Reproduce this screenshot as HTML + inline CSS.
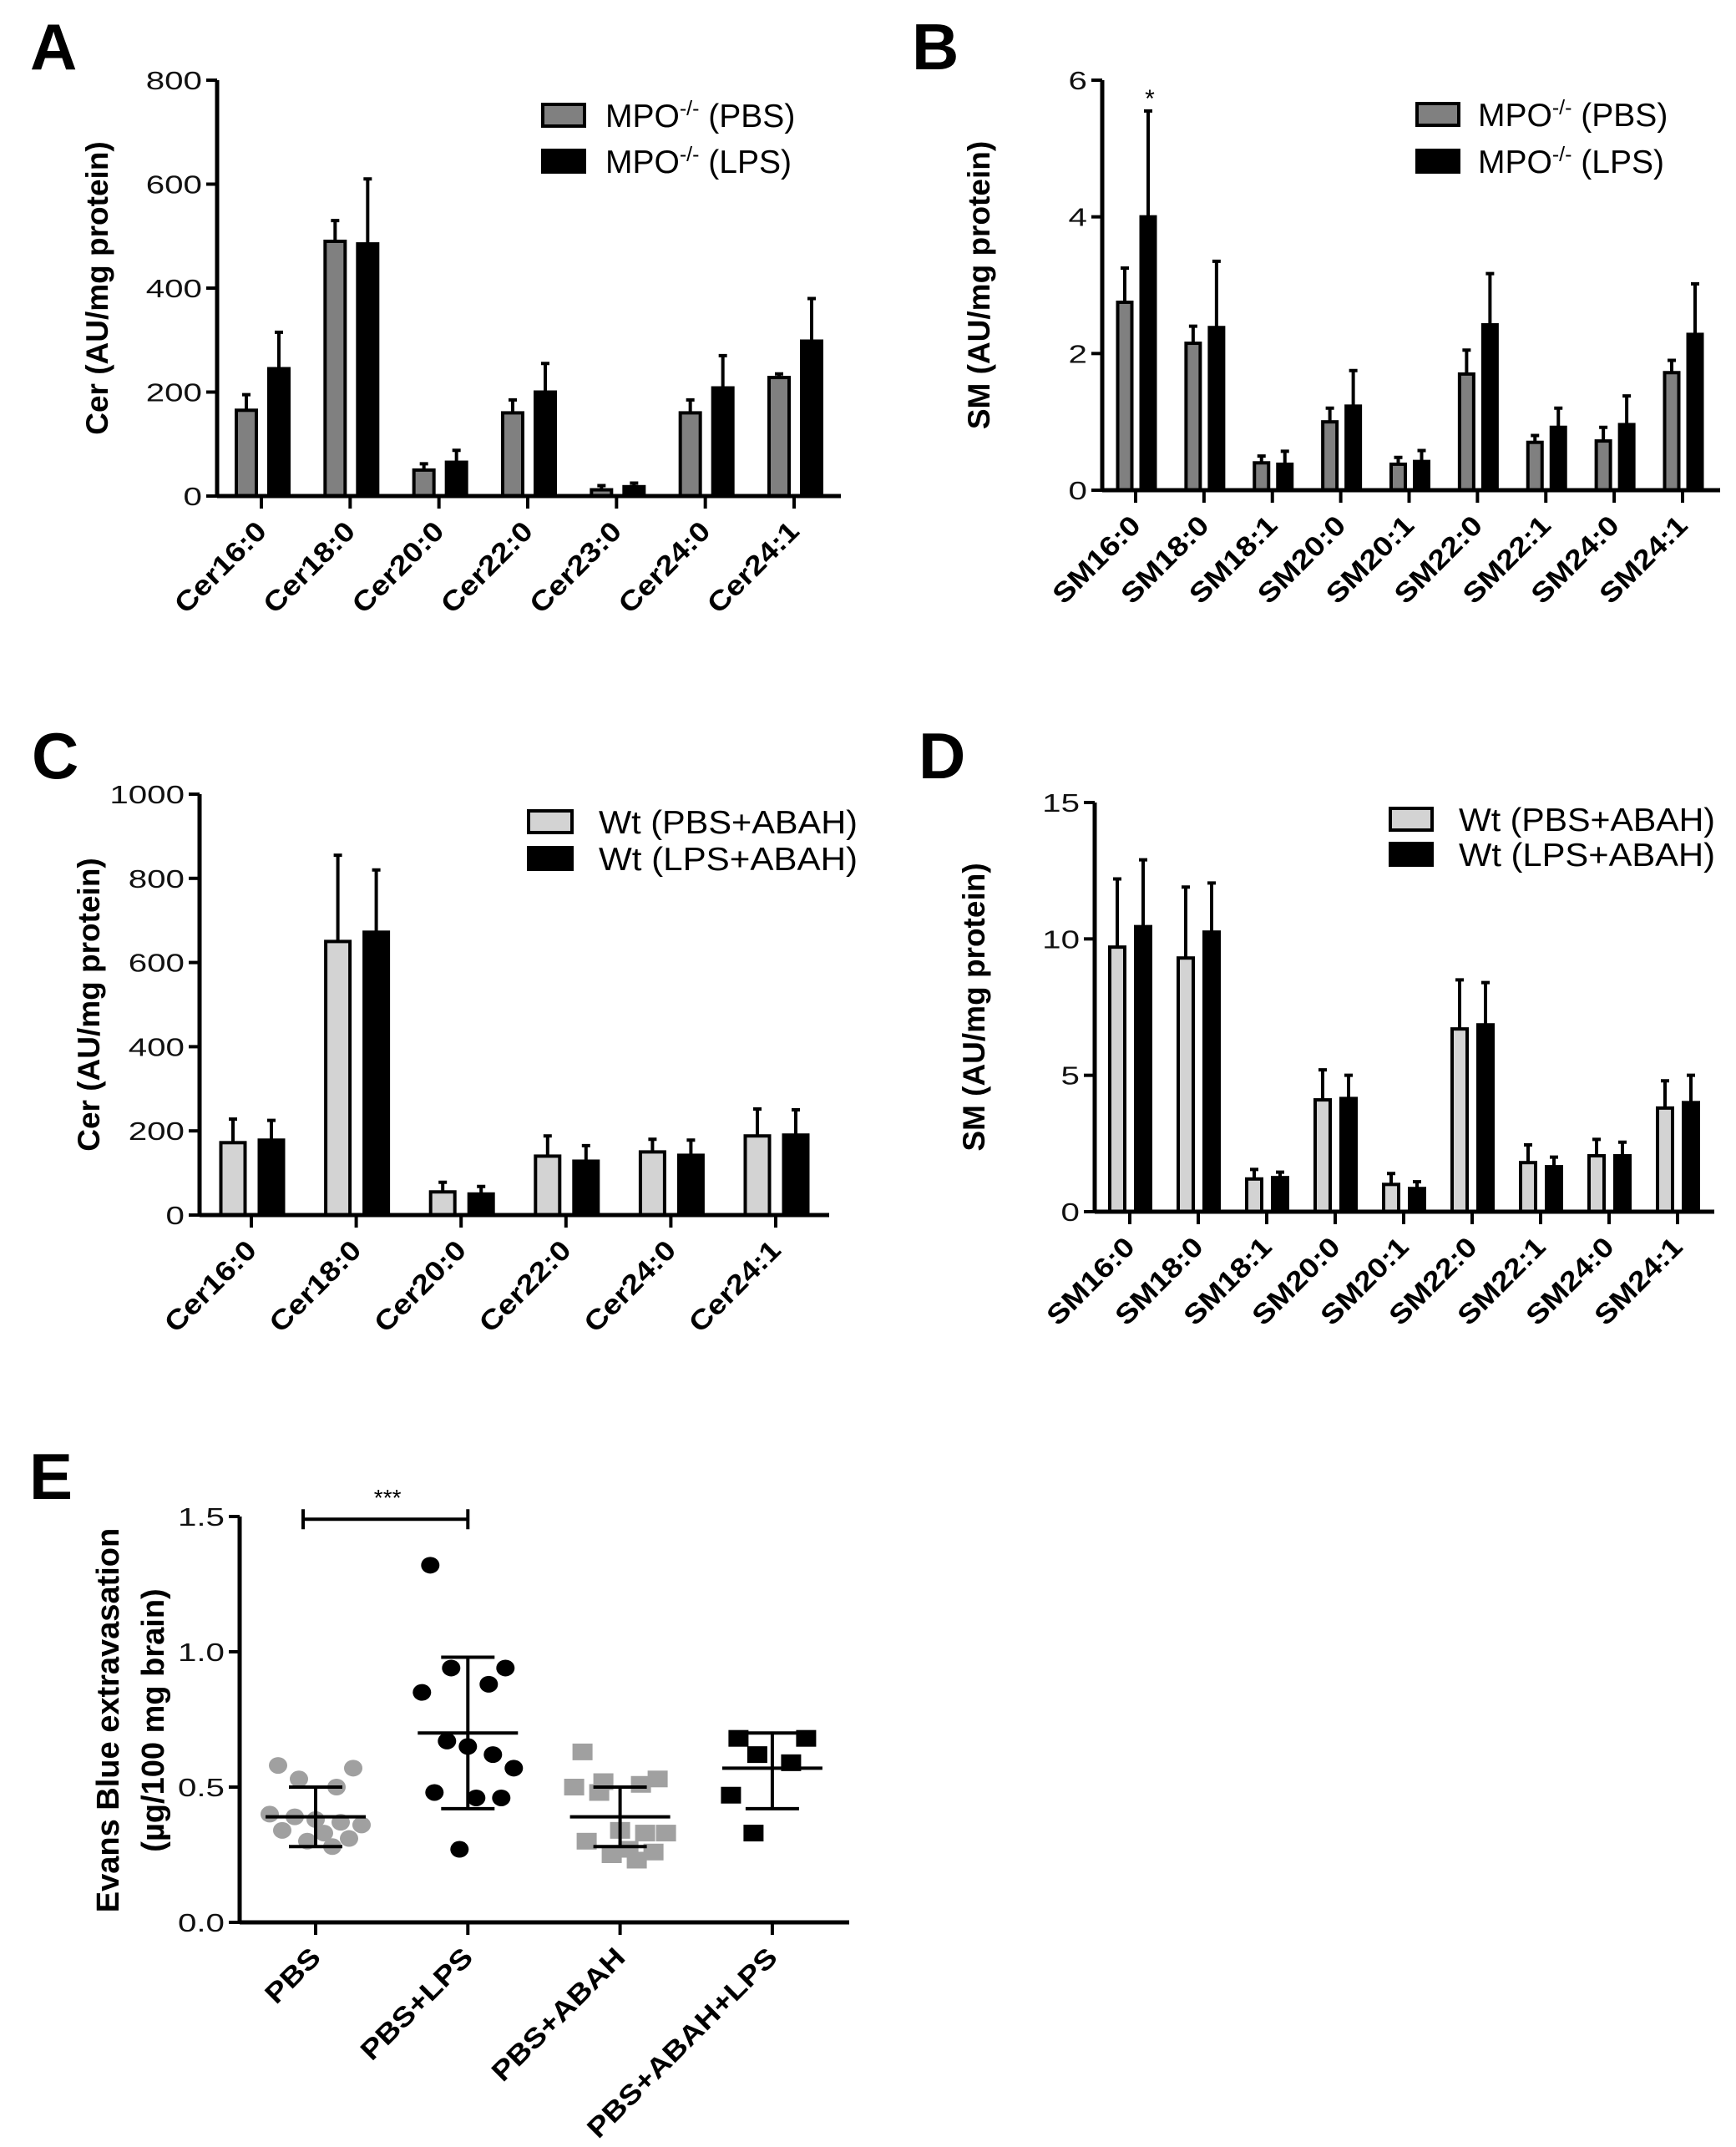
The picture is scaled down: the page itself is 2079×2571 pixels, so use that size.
<!DOCTYPE html>
<html><head><meta charset="utf-8"><style>
body{margin:0;background:#fff}
svg{display:block;font-family:"Liberation Sans",Arial,sans-serif}
</style></head><body>
<svg id="fig" width="2079" height="2571" viewBox="0 0 2079 2571" xmlns="http://www.w3.org/2000/svg"></svg>
<script>
// ---- Panel A data ----
const aCats=["Cer16:0","Cer18:0","Cer20:0","Cer22:0","Cer23:0","Cer24:0","Cer24:1"];
const aPbs=[165,490,50,160,12,160,228];
const aPbsErr=[195,530,62,185,20,185,235];
const aLps=[245,485,65,200,18,208,298];
const aLpsErr=[315,610,88,255,25,270,380];
const aTicks=[0,200,400,600,800];
// ---- Panel B data ----
const bCats=["SM16:0","SM18:0","SM18:1","SM20:0","SM20:1","SM22:0","SM22:1","SM24:0","SM24:1"];
const bPbs=[2.75,2.15,0.4,1.0,0.38,1.7,0.7,0.72,1.72];
const bPbsErr=[3.25,2.4,0.5,1.2,0.48,2.05,0.8,0.92,1.9];
const bLps=[4.0,2.38,0.38,1.23,0.42,2.42,0.92,0.96,2.28];
const bLpsErr=[5.55,3.35,0.57,1.75,0.58,3.17,1.2,1.38,3.02];
const bTicks=[0,2,4,6];
// ---- Panel C data ----
const cCats=["Cer16:0","Cer18:0","Cer20:0","Cer22:0","Cer24:0","Cer24:1"];
const cPbs=[172,650,55,140,150,188];
const cPbsErr=[228,855,78,188,180,252];
const cLps=[178,672,50,128,142,190];
const cLpsErr=[225,820,68,165,178,250];
const cTicks=[0,200,400,600,800,1000];
// ---- Panel D data ----
const dCats=["SM16:0","SM18:0","SM18:1","SM20:0","SM20:1","SM22:0","SM22:1","SM24:0","SM24:1"];
const dPbs=[9.7,9.3,1.2,4.1,1.0,6.7,1.8,2.05,3.8];
const dPbsErr=[12.2,11.9,1.55,5.2,1.4,8.5,2.45,2.65,4.8];
const dLps=[10.45,10.25,1.25,4.15,0.85,6.85,1.65,2.05,4.0];
const dLpsErr=[12.9,12.05,1.45,5.0,1.1,8.4,2.0,2.55,5.0];
const dTicks=[0,5,10,15];
// ---- Panel E data ----
const eCats=["PBS","PBS+LPS","PBS+ABAH","PBS+ABAH+LPS"];
const ePbs=[0.58,0.57,0.53,0.50,0.40,0.39,0.38,0.37,0.36,0.34,0.33,0.31,0.30,0.28];
const ePbsLps=[1.32,0.94,0.94,0.88,0.85,0.67,0.65,0.62,0.57,0.48,0.46,0.46,0.27];
const eAbah=[0.63,0.53,0.52,0.51,0.50,0.48,0.34,0.33,0.33,0.30,0.27,0.26,0.25,0.23];
const eAbahLps=[0.68,0.68,0.62,0.59,0.47,0.33];
const eMean=[0.39,0.70,0.39,0.57];
const eSdHi=[0.50,0.98,0.50,0.70];
const eSdLo=[0.28,0.42,0.28,0.42];
const eTicks=["0.0","0.5","1.0","1.5"];

const NS="http://www.w3.org/2000/svg";
const svg=document.getElementById('fig');
function mk(tag,attrs,parent,text){const e=document.createElementNS(NS,tag);for(const k in attrs)e.setAttribute(k,attrs[k]);if(text!==undefined)e.textContent=text;(parent||svg).appendChild(e);return e;}
function stretch(el,f){try{const w=el.getComputedTextLength();if(w>0){el.setAttribute('textLength',w*f);el.setAttribute('lengthAdjust','spacingAndGlyphs');}}catch(e){}}
function fitTo(el,w){el.setAttribute('textLength',w);el.setAttribute('lengthAdjust','spacingAndGlyphs');}

function barPanel(o){
  const g=mk('g',{});
  
  
  const y=v=>o.y0-(v/o.max)*(o.y0-o.yTop);
  const n=o.cats.length;
  const x=i=>o.first+i*(o.last-o.first)/(n-1);
  const L=mk('text',{x:o.lx,y:o.ly,'font-size':78,'font-weight':'bold'},g,o.letter);
  
  
  const series=[[o.p,o.pe,o.pcol,o.off1,'pbs'],[o.l,o.le,'#000',o.off2,'lps']];
  series.forEach(s=>{
    s[0].forEach((v,i)=>{
      const cx=x(i)+s[3];
      const eb=mk('path',{d:`M${cx} ${y(v)}V${y(s[1][i])}M${cx-5} ${y(s[1][i])}H${cx+5}`,stroke:'#000','stroke-width':4,fill:'none'},g);
      
      
      const r=mk('rect',{x:cx-o.bw/2,y:y(v),width:o.bw,height:o.y0-y(v),fill:s[2],stroke:'#000','stroke-width':4},g);
      
      
    });
  });
  const ya=mk('path',{d:`M${o.ax} ${o.yTop}V${o.y0}`,stroke:'#000','stroke-width':5},g);
  
  
  const xa=mk('path',{d:`M${o.ax} ${o.y0}H${o.right}`,stroke:'#000','stroke-width':5},g);
  
  
  o.ticks.forEach(t=>{
    mk('path',{d:`M${o.ax-13} ${y(t)}H${o.ax}`,stroke:'#000','stroke-width':4},g);
    const tl=mk('text',{x:o.ax-18,y:y(t)+11,'font-size':31,'text-anchor':'end',fill:'#111'},g,String(t));
    
    
    stretch(tl,1.3);
  });
  o.cats.forEach((c,i)=>{
    mk('path',{d:`M${x(i)} ${o.y0}V${o.y0+15}`,stroke:'#000','stroke-width':4},g);
    const tx=x(i)+8, ty=o.y0+44;
    const t=mk('text',{x:tx,y:ty,'font-size':33,'font-weight':'bold','text-anchor':'end',transform:`rotate(-45 ${tx} ${ty})`},g,c);
    
    
    stretch(t,1.15);
  });
  const yt=mk('text',{x:0,y:0,'font-size':37,'font-weight':'bold','text-anchor':'middle',transform:`translate(${o.tx} ${(o.yTop+o.y0)/2}) rotate(-90)`},g,o.ytitle);
  
  
  o.leg.forEach((lg,k)=>{
    const b=mk('rect',{x:o.legX,y:o.legY[k],width:o.legW,height:o.legH,fill:k?'#000':o.pcol,stroke:'#000','stroke-width':4},g);
    
    
    const t=mk('text',{x:o.legTX,y:o.legY[k]+o.legH+1,'font-size':39},g);
    
    
    t.innerHTML=lg;
    if(o.legFit) fitTo(t,o.legFit);
  });
  if(o.star){const s=mk('text',{x:o.star[0],y:o.star[1],'font-size':30,'text-anchor':'middle'},g,'*');
    
    }
}
const mpo=['MPO<tspan font-size="25" dy="-14">-/-</tspan><tspan dy="14"> (PBS)</tspan>','MPO<tspan font-size="25" dy="-14">-/-</tspan><tspan dy="14"> (LPS)</tspan>'];
const wt=['Wt (PBS+ABAH)','Wt (LPS+ABAH)'];
barPanel({name:'panel-a',letter:'A',lx:36,ly:83,cats:aCats,p:aPbs,pe:aPbsErr,l:aLps,le:aLpsErr,ticks:aTicks,max:800,
  ax:260,yTop:96,y0:594,right:1007,first:313,last:951,off1:-18,off2:21,bw:24,pcol:'#808080',tx:129,ytitle:'Cer (AU/mg protein)',
  leg:mpo,legX:650,legY:[125,180],legW:50,legH:26,legTX:725});
barPanel({name:'panel-b',letter:'B',lx:1092,ly:83,cats:bCats,p:bPbs,pe:bPbsErr,l:bLps,le:bLpsErr,ticks:bTicks,max:6,
  ax:1320,yTop:96,y0:587,right:2060,first:1360,last:2015,off1:-13,off2:15,bw:17,pcol:'#808080',tx:1185,ytitle:'SM (AU/mg protein)',
  leg:mpo,legX:1697,legY:[124,180],legW:50,legH:26,legTX:1770,star:[1377,128]});
barPanel({name:'panel-c',letter:'C',lx:38,ly:932,cats:cCats,p:cPbs,pe:cPbsErr,l:cLps,le:cLpsErr,ticks:cTicks,max:1000,
  ax:239,yTop:951,y0:1455,right:993,first:301,last:929,off1:-22,off2:24,bw:29,pcol:'#d3d3d3',tx:119,ytitle:'Cer (AU/mg protein)',
  leg:wt,legX:633,legY:[971,1015],legW:52,legH:26,legTX:717,legFit:310});
barPanel({name:'panel-d',letter:'D',lx:1100,ly:932,cats:dCats,p:dPbs,pe:dPbsErr,l:dLps,le:dLpsErr,ticks:dTicks,max:15,
  ax:1311,yTop:961,y0:1451,right:2053,first:1353,last:2009,off1:-15,off2:16,bw:18,pcol:'#d3d3d3',tx:1179,ytitle:'SM (AU/mg protein)',
  leg:wt,legX:1665,legY:[968,1010],legW:50,legH:26,legTX:1747,legFit:307});

// ---- Panel E ----
(function(){
  const g=mk('g',{});
  
  
  const ax=287,yTop=1816,y0=2302,right=1017;
  const y=v=>y0-(v/1.5)*(y0-yTop);
  const x=i=>378+i*182.3;
  const L=mk('text',{x:35,y:1795,'font-size':78,'font-weight':'bold'},g,'E');
  
  
  const jit=[-45,45,-20,25,-55,-25,0,30,55,-40,10,40,-10,20];
  const groups=[[ePbs,'#a0a0a0','circle'],[ePbsLps,'#000','circle'],[eAbah,'#a0a0a0','square'],[eAbahLps,'#000','square']];
  groups.forEach((gr,gi)=>{
    gr[0].forEach((v,k)=>{
      const cx=x(gi)+jit[k%jit.length]*(gi==3?0.9:1);
      let e;
      if(gr[2]==='circle') e=mk('ellipse',{cx:cx,cy:y(v),rx:11,ry:10,fill:gr[1]},g);
      else e=mk('rect',{x:cx-12,y:y(v)-10,width:24,height:20,fill:gr[1]},g);
      
      
    });
    const cx=x(gi);
    const m=mk('path',{d:`M${cx-60} ${y(eMean[gi])}H${cx+60}M${cx} ${y(eSdHi[gi])}V${y(eSdLo[gi])}M${cx-32} ${y(eSdHi[gi])}H${cx+32}M${cx-32} ${y(eSdLo[gi])}H${cx+32}`,stroke:'#000','stroke-width':4,fill:'none'},g);
    
    
  });
  const ya=mk('path',{d:`M${ax} ${yTop}V${y0}`,stroke:'#000','stroke-width':5},g);
  
  
  const xa=mk('path',{d:`M${ax} ${y0}H${right}`,stroke:'#000','stroke-width':5},g);
  
  
  eTicks.forEach(t=>{
    const v=parseFloat(t);
    mk('path',{d:`M${ax-13} ${y(v)}H${ax}`,stroke:'#000','stroke-width':4},g);
    const tl=mk('text',{x:ax-18,y:y(v)+11,'font-size':31,'text-anchor':'end',fill:'#111'},g,t);
    
    
    stretch(tl,1.3);
  });
  eCats.forEach((c,i)=>{
    mk('path',{d:`M${x(i)} ${y0}V${y0+15}`,stroke:'#000','stroke-width':4},g);
    const tx=x(i)+8,ty=y0+44;
    const t=mk('text',{x:tx,y:ty,'font-size':33,'font-weight':'bold','text-anchor':'end',transform:`rotate(-45 ${tx} ${ty})`},g,c);
    
    
    stretch(t,1.15);
  });
  const yt=mk('text',{x:0,y:0,'font-size':38,'font-weight':'bold','text-anchor':'middle',transform:`translate(142 2060) rotate(-90)`},g);
  
  
  mk('tspan',{x:0,dy:0},yt,'Evans Blue extravasation');
  mk('tspan',{x:0,dy:54},yt,'(µg/100 mg brain)');
  const by=y(1.49);
  const br=mk('path',{d:`M${x(0)-15} ${by}H${x(1)}M${x(0)-15} ${by-12}V${by+12}M${x(1)} ${by-12}V${by+12}`,stroke:'#000','stroke-width':4,fill:'none'},g);
  
  
  const st=mk('text',{x:(x(0)+x(1))/2-5,y:1803,'font-size':28,'text-anchor':'middle'},g,'***');
  
  
})();
</script>
</body></html>
